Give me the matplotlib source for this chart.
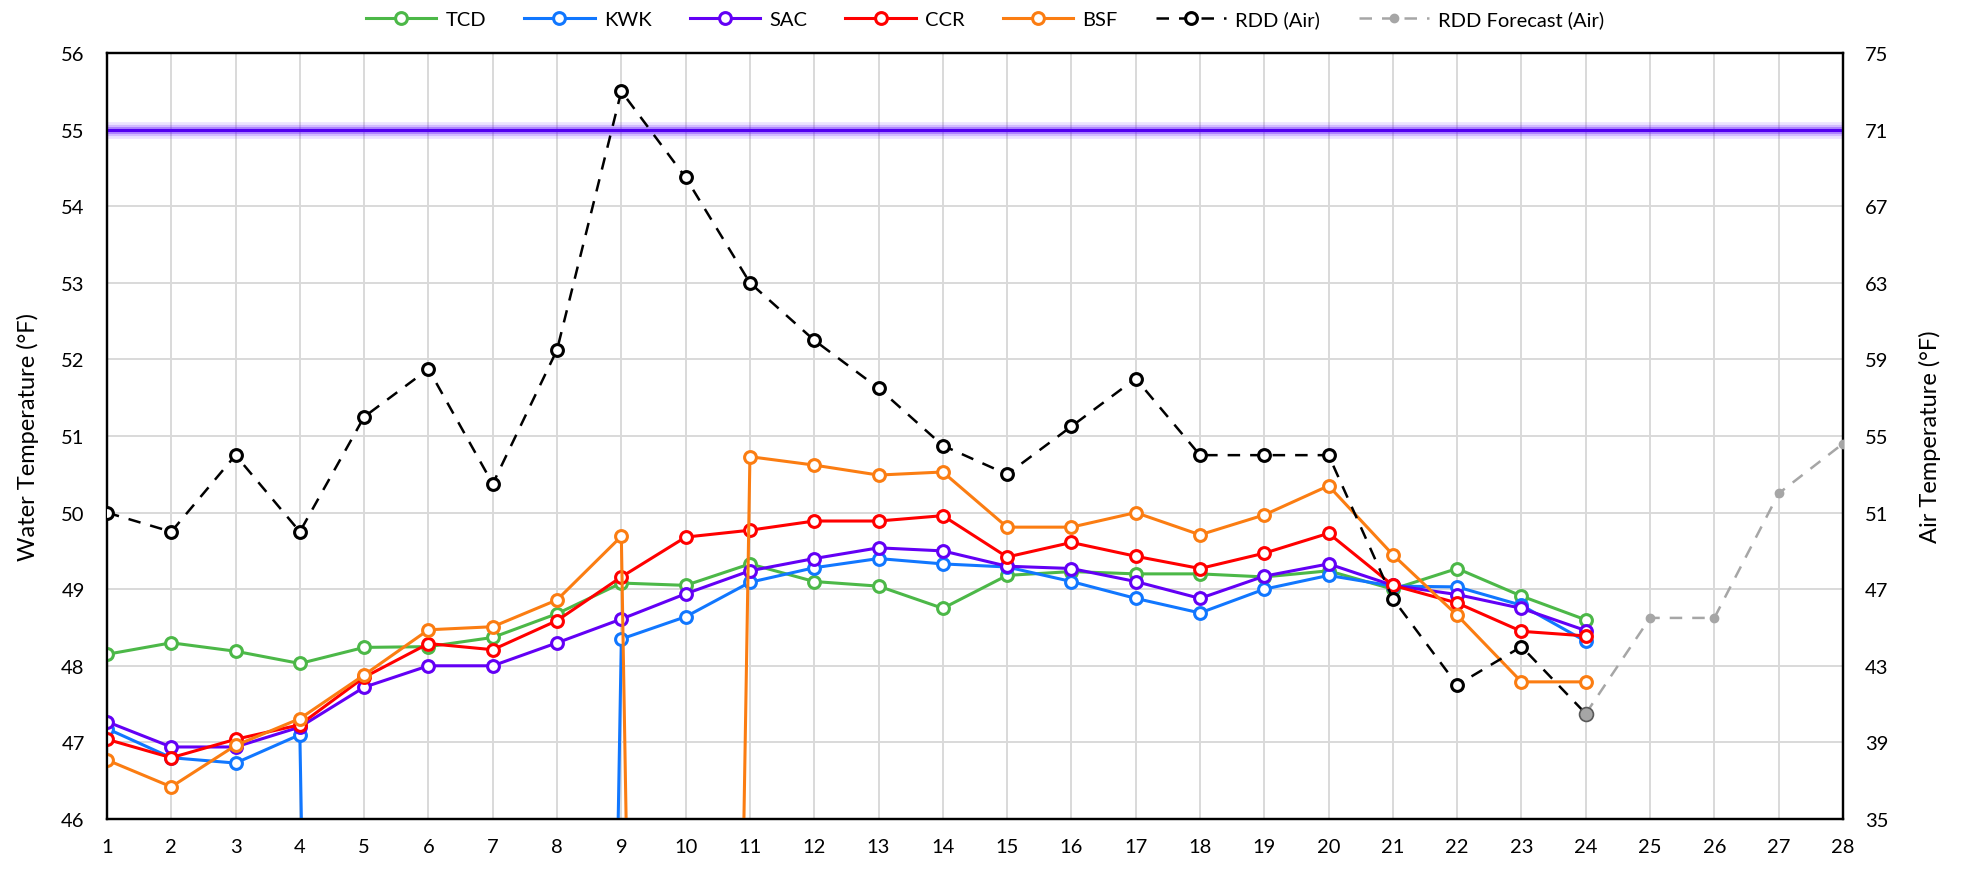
import matplotlib
matplotlib.use("Agg")
import matplotlib.pyplot as plt
import numpy as np

plt.rcParams['font.family'] = ['Lato', 'DejaVu Sans']

# days 1..24 observed, forecast 24..28
days = list(range(1, 25))
fc_days = [24, 25, 26, 27, 28]

# water temperature (F); 0 = missing reading (drops off the axis)
tcd = [48.15, 48.30, 48.19, 48.03, 48.24, 48.25, 48.37, 48.68, 49.08, 49.05, 49.33, 49.10,
       49.04, 48.75, 49.18, 49.23, 49.20, 49.20, 49.16, 49.24, 49.00, 49.27, 48.91, 48.60]
kwk = [47.18, 46.80, 46.73, 47.10, 0, 0, 0, 0, 48.35, 48.64, 49.09, 49.28,
       49.40, 49.33, 49.29, 49.10, 48.88, 48.69, 49.00, 49.18, 49.04, 49.03, 48.79, 48.32]
sac = [47.27, 46.94, 46.94, 47.20, 47.72, 48.00, 48.00, 48.30, 48.61, 48.94, 49.24, 49.40,
       49.54, 49.50, 49.30, 49.27, 49.10, 48.88, 49.17, 49.33, 49.05, 48.93, 48.75, 48.46]
ccr = [47.04, 46.80, 47.04, 47.23, 47.85, 48.29, 48.21, 48.59, 49.16, 49.68, 49.77, 49.89,
       49.89, 49.96, 49.42, 49.61, 49.43, 49.27, 49.47, 49.73, 49.05, 48.82, 48.45, 48.39]
bsf = [46.77, 46.42, 46.96, 47.31, 47.88, 48.47, 48.51, 48.86, 49.69, 0, 50.73, 50.62,
       50.49, 50.53, 49.81, 49.81, 50.00, 49.71, 49.97, 50.35, 49.45, 48.66, 47.79, 47.79]

# air temperature (F)
rdd_air = [51, 50, 54, 50, 56, 58.5, 52.5, 59.5, 73, 68.5, 63, 60,
           57.5, 54.5, 53, 55.5, 58, 54, 54, 54, 46.5, 42, 44, 40.5]
rdd_fc = [40.5, 45.5, 45.5, 52.0, 54.6]

target = 55  # water temp target line

fig = plt.figure(figsize=(19.7, 8.7), dpi=100)
ax = fig.add_axes([0.0543, 0.0575, 0.8812, 0.8804])
ax2 = ax.twinx()

# glowing target line
for lw, a in [(12, 0.12), (8, 0.2), (5, 0.35)]:
    ax.axhline(target, color='#6a1cff', lw=lw, alpha=a, zorder=3)
ax.axhline(target, color='#5200f0', lw=2.2, zorder=3)

mk = dict(marker='o', markersize=8.5, markerfacecolor='white', markeredgewidth=2.2, lw=2.2)
series = [('TCD', tcd, '#4cb848'), ('KWK', kwk, '#1177ff'), ('SAC', sac, '#6300f5'),
          ('CCR', ccr, '#ff0000'), ('BSF', bsf, '#fb7d12')]
handles = []
for name, vals, c in series:
    h, = ax.plot(days, vals, color=c, markeredgecolor=c, label=name, zorder=4, **mk)
    handles.append(h)

h_rdd, = ax2.plot(days, rdd_air, color='black', ls=(0, (5, 4)), lw=1.8, marker='o',
                  markersize=8.5, markerfacecolor='white', markeredgecolor='black',
                  markeredgewidth=2.2, markevery=list(range(len(days) - 1)),
                  label='RDD (Air)', zorder=5)
h_fc, = ax2.plot(fc_days, rdd_fc, color='#a6a6a6', ls=(0, (5, 4)), lw=1.8, marker='o',
                 markersize=6, markerfacecolor='#a6a6a6', markeredgecolor='#a6a6a6',
                 label='RDD Forecast (Air)', zorder=5)
ax2.plot(fc_days[:1], rdd_fc[:1], ls='none', marker='o', markersize=10,
         markerfacecolor='#a6a6a6', markeredgecolor='#595959', markeredgewidth=1.2, zorder=6)
handles += [h_rdd, h_fc]

ax.set_xlim(1, 28)
ax.set_xticks(range(1, 29))
ax.set_ylim(46, 56)
ax.set_yticks(range(46, 57))
ax2.set_ylim(35, 75)
ax2.set_yticks(range(35, 76, 4))

ax.grid(True, color='#d9d9d9', lw=1.4)
ax.set_axisbelow(True)
for a in (ax, ax2):
    a.tick_params(length=0, labelsize=14.5)
    for s in a.spines.values():
        s.set_linewidth(1.6)
        s.set_color('black')
ax.tick_params(axis='x', pad=14)
ax.tick_params(axis='y', pad=16)
ax2.tick_params(axis='y', pad=16)

ax.set_ylabel('Water Temperature (°F)', fontsize=17, labelpad=16)
ax2.set_ylabel('Air Temperature (°F)', fontsize=17, labelpad=22)

fig.legend(handles=[h for h in handles], labels=[h.get_label() for h in handles],
           loc='upper center', bbox_to_anchor=(0.5, 1.008), ncol=7, frameon=False,
           fontsize=14.5, handlelength=3.5, columnspacing=1.9, handletextpad=0.45)

fig.savefig('out.png', dpi=100)
